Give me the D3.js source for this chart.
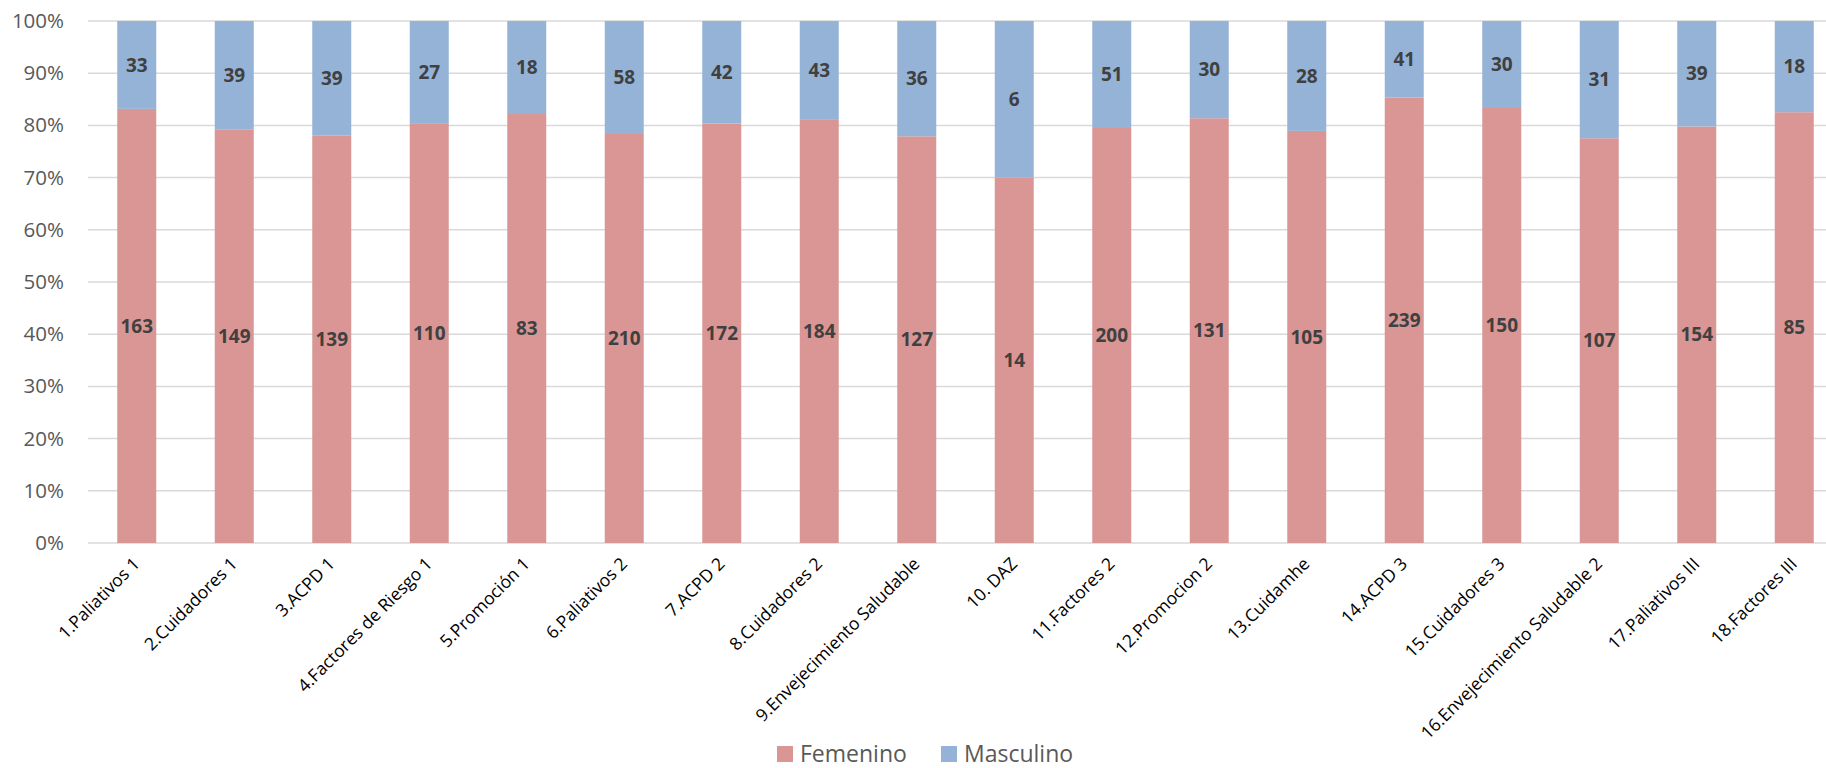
<!DOCTYPE html>
<html>
<head>
<meta charset="utf-8">
<script src="https://cdn.jsdelivr.net/npm/d3@7"></script>
<style>
body { margin: 0; background: #fff; overflow: hidden; }
svg { display: block; font-family: "Open Sans", "Noto Sans", sans-serif; }
</style>
</head>
<body>
<div id="chart"></div>
<script>
var categories = ["1.Paliativos 1", "2.Cuidadores 1", "3.ACPD 1", "4.Factores de Riesgo 1", "5.Promoción 1",
    "6.Paliativos 2", "7.ACPD 2", "8.Cuidadores 2", "9.Envejecimiento Saludable", "10. DAZ",
    "11.Factores 2", "12.Promocion 2", "13.Cuidamhe", "14.ACPD 3", "15.Cuidadores 3",
    "16.Envejecimiento Saludable 2", "17.Paliativos III", "18.Factores III"];
var femenino = [163, 149, 139, 110, 83, 210, 172, 184, 127, 14, 200, 131, 105, 239, 150, 107, 154, 85];
var masculino = [33, 39, 39, 27, 18, 58, 42, 43, 36, 6, 51, 30, 28, 41, 30, 31, 39, 18];
var seriesNames = ["Femenino", "Masculino"];
var yTicks = [0, 0.1, 0.2, 0.3, 0.4, 0.5, 0.6, 0.7, 0.8, 0.9, 1];

var colors = {"Femenino": "#d99694", "Masculino": "#95b3d7"};

var W = 1826, H = 768;
var margin = {top: 21, left: 88};
var plotW = 1755, plotH = 522;

var svg = d3.select("#chart").append("svg").attr("width", W).attr("height", H);
var g = svg.append("g").attr("transform", "translate(" + margin.left + "," + margin.top + ")");

var x = d3.scaleBand().domain(categories).range([0, plotW]).paddingInner(0.6).paddingOuter(0.3);
var y = d3.scaleLinear().domain([0, 1]).range([plotH, 0]);

// gridlines
g.selectAll(".grid").data(yTicks).enter().append("line")
    .attr("x1", 0).attr("x2", plotW)
    .attr("y1", d => y(d)).attr("y2", d => y(d))
    .attr("stroke", "#d9d9d9").attr("stroke-width", 1.5);

// y axis
var yAxis = g.append("g").call(d3.axisLeft(y).tickValues(yTicks).tickFormat(d3.format(".0%")).tickSize(0).tickPadding(24));
yAxis.select(".domain").remove();
yAxis.selectAll("text").attr("font-size", 20.5).attr("fill", "#595959").attr("font-family", "Open Sans, Noto Sans, sans-serif");

// stack data
var table = categories.map(function(c, i) {
    var tot = femenino[i] + masculino[i];
    return {cat: c, Femenino: femenino[i] / tot, Masculino: masculino[i] / tot, vF: femenino[i], vM: masculino[i]};
});
var stack = d3.stack().keys(seriesNames)(table);

var layers = g.selectAll(".layer").data(stack).enter().append("g");
layers.selectAll("rect").data(d => d.map(p => ({p: p, key: d.key}))).enter().append("rect")
    .attr("x", d => x(d.p.data.cat))
    .attr("y", d => y(d.p[1]))
    .attr("width", x.bandwidth())
    .attr("height", d => y(d.p[0]) - y(d.p[1]))
    .attr("fill", d => colors[d.key]);

// data labels
layers.selectAll("text").data(d => d.map(p => ({p: p, key: d.key}))).enter().append("text")
    .attr("x", d => x(d.p.data.cat) + x.bandwidth() / 2)
    .attr("y", d => (y(d.p[0]) + y(d.p[1])) / 2)
    .attr("dy", "0.35em")
    .attr("text-anchor", "middle")
    .attr("font-size", 19).attr("font-weight", "bold").attr("fill", "#404040")
    .text(d => d.key === "Femenino" ? d.p.data.vF : d.p.data.vM);

// x labels
var xl = g.append("g").attr("transform", "translate(0," + plotH + ")");
xl.selectAll("text").data(categories).enter().append("text")
    .attr("transform", d => "translate(" + (x(d) + x.bandwidth() / 2 + 4) + ",22) rotate(-45)")
    .attr("text-anchor", "end")
    .attr("font-size", 17.5).attr("fill", "#000")
    .text(d => d);

// legend
var legend = svg.append("g").attr("transform", "translate(777,746)");
var items = [{k: "Femenino", x: 0}, {k: "Masculino", x: 164}];
items.forEach(function(it) {
    legend.append("rect").attr("x", it.x).attr("y", 0).attr("width", 16).attr("height", 16).attr("fill", colors[it.k]);
    legend.append("text").attr("x", it.x + 23).attr("y", 16)
        .attr("font-size", 23).attr("fill", "#595959").text(it.k);
});
</script>
</body>
</html>
